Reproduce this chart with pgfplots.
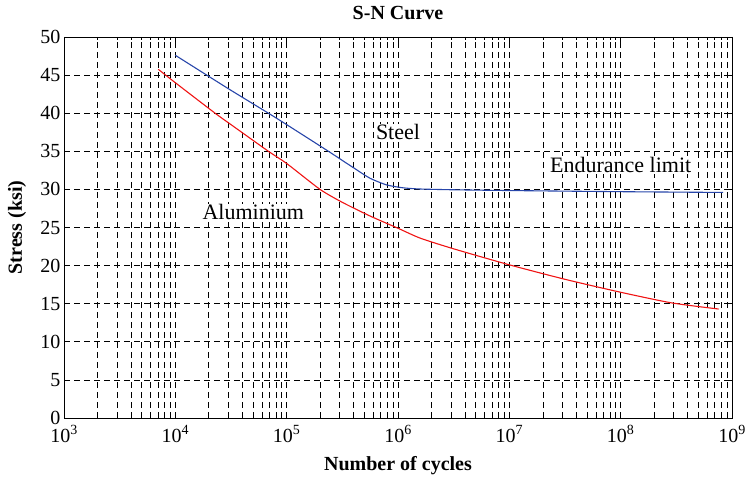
\documentclass[border=0pt]{standalone}
\usepackage{fontspec}
\setmainfont{Liberation Serif}
\usepackage{pgfplots}
\pgfplotsset{compat=1.18}
\definecolor{steelblue}{RGB}{40,70,170}
\definecolor{alured}{RGB}{240,20,20}
\begin{document}
\begin{tikzpicture}[x=1pt,y=1pt]
\path[use as bounding box] (0,0) rectangle (747,478);
\begin{axis}[
  at={(64pt,60pt)}, anchor=south west,
  scale only axis, width=668pt, height=381pt,
  xmode=log, log basis x=10,
  xmin=1e3, xmax=1e9, ymin=0, ymax=50,
  ytick={0,5,...,50},
  xtick={1e3,1e4,1e5,1e6,1e7,1e8,1e9},
  minor xtick={2e3,3e3,4e3,5e3,6e3,7e3,8e3,9e3,
               2e4,3e4,4e4,5e4,6e4,7e4,8e4,9e4,
               2e5,3e5,4e5,5e5,6e5,7e5,8e5,9e5,
               2e6,3e6,4e6,5e6,6e6,7e6,8e6,9e6,
               2e7,3e7,4e7,5e7,6e7,7e7,8e7,9e7,
               2e8,3e8,4e8,5e8,6e8,7e8,8e8,9e8},
  grid=both,
  major grid style={black, dash pattern=on 6pt off 4pt, line width=0.7pt},
  minor grid style={black, dash pattern=on 6pt off 4pt, line width=0.7pt},
  tick align=inside, major tick length=6pt, minor tick length=3pt,
  tick style={black, line width=0.7pt},
  axis line style={line width=0.9pt},
  ticklabel style={font=\fontsize{20}{24}\selectfont},
  xticklabel style={yshift=-4pt},
  /pgf/number format/assume math mode=true,
  xticklabel={10\textsuperscript{\pgfmathparse{int(round(\tick))}\pgfmathresult}},
  title={S-N Curve},
  title style={font=\bfseries\fontsize{20}{24}\selectfont, at={(axis description cs:0.5,1)}, anchor=south, yshift=8pt},
  xlabel={Number of cycles},
  xlabel style={font=\bfseries\fontsize{20}{24}\selectfont, at={(axis description cs:0.5,0)}, anchor=base, yshift=-53pt},
  ylabel={Stress (ksi)},
  ylabel style={font=\bfseries\fontsize{20}{24}\selectfont, at={(axis description cs:0,0.5)}, anchor=center, yshift=47pt},
]
\addplot[steelblue, line width=1.1pt, smooth, tension=0.4] coordinates {
(1e4,47.6) (19143,45) (31623,43.0) (68549,40) (1e5,38.5) (237137,35)
(316228,33.8) (412098,32.7) (562341,31.45) (794328,30.58) (1122018,30.2)
(1584893,30.05) (3162278,29.95) (1e7,29.85) (1e8,29.7) (831763771,29.6)
};
\addplot[alured, line width=1.1pt, smooth, tension=0.4] coordinates {
(7031,45.76) (1e4,44.0) (22751,40) (31623,38.5) (68549,35) (1e5,33.4)
(199526,30) (316228,28.3) (562341,26.5) (1e6,24.9) (1584893,23.6) (3162278,22.2)
(1e7,20.1) (31622777,18.2) (1e8,16.5) (288403150,15.1) (758577575,14.3)
};
\node[fill=white, inner sep=1pt, font=\fontsize{22}{26}\selectfont] at (axis cs:1e6,37.5) {Steel};
\node[fill=white, inner sep=1pt, font=\fontsize{22}{26}\selectfont] at (axis cs:1e8,33.2) {Endurance limit};
\node[fill=white, inner sep=1pt, font=\fontsize{22}{26}\selectfont] at (axis cs:50119,27.0) {Aluminium};
\end{axis}
\end{tikzpicture}
\end{document}
